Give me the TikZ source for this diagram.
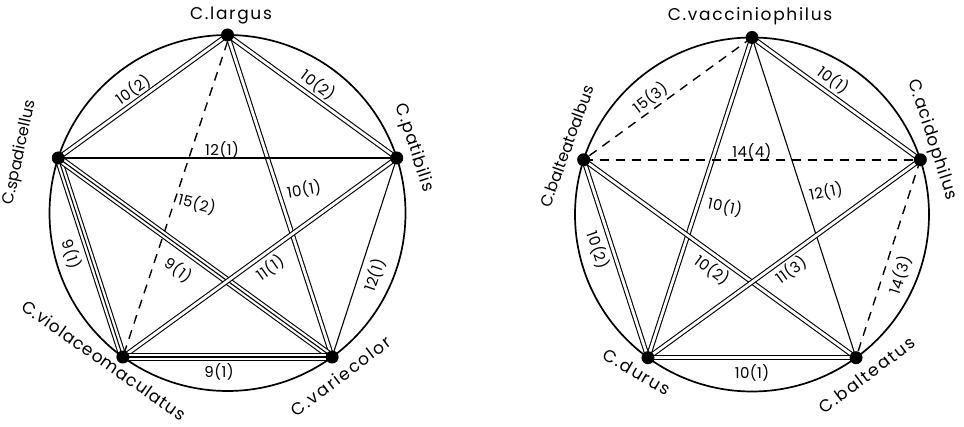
\documentclass[tikz,border=0pt]{standalone}
\usepackage{fontspec}
\setmainfont{Poppins}
\newfontfamily\nmfont[LetterSpace=10]{Poppins}
\newfontfamily\nmmid[LetterSpace=5]{Poppins}
\newfontfamily\nmflat{Poppins}
\newfontfamily\lbfont[LetterSpace=3]{Poppins}
\pgfdeclarelayer{bg}
\pgfsetlayers{bg,main}
\tikzset{
 dot/.style={circle, fill=black, inner sep=0pt, minimum size=13pt},
 nm/.style={font=\nmfont\fontsize{17}{20}\selectfont, inner sep=0pt},
 nmm/.style={font=\nmmid\fontsize{17}{20}\selectfont, inner sep=0pt},
 nmf/.style={font=\nmflat\fontsize{16}{19}\selectfont, inner sep=0pt},
 lb/.style={font=\lbfont\fontsize{15}{18}\selectfont, inner sep=0pt},
 ring/.style={line width=1.7pt},
 sgl/.style={line width=1.1pt},
 dbl/.style={double, line width=1.1pt, double distance=2.8pt},
 trp/.style={line width=1.1pt, preaction={draw, black, line width=7.8pt}, preaction={draw, white, line width=5.6pt}},
 dsh/.style={line width=1.4pt, dash pattern=on 9pt off 7pt},
}
\begin{document}
\begin{tikzpicture}[x=1pt,y=1pt]
\useasboundingbox (0,0) rectangle (964,-427);
% left
\coordinate (LC) at (227.5,-213);
\draw[ring] (LC) circle (178);
\node[dot] (La) at ([shift={(90:178)}]LC) {};
\node[dot] (Lp) at ([shift={(18:178)}]LC) {};
\node[dot] (Lv) at ([shift={(-54:178)}]LC) {};
\node[dot] (Lo) at ([shift={(234:178)}]LC) {};
\node[dot] (Ls) at ([shift={(162:178)}]LC) {};
% right
\coordinate (RC) at (752,-214.5);
\draw[ring] (RC) circle (177);
\node[dot] (Rv) at ([shift={(90:177)}]RC) {};
\node[dot] (Ra) at ([shift={(18:177)}]RC) {};
\node[dot] (Rb) at ([shift={(-54:177)}]RC) {};
\node[dot] (Rd) at ([shift={(234:177)}]RC) {};
\node[dot] (Ro) at ([shift={(162:177)}]RC) {};
\begin{pgfonlayer}{bg}
\draw[dbl] (La.center) -- (Ls.center);
\draw[dbl] (La.center) -- (Lp.center);
\draw[dsh] (La.south) -- (Lo.center);
\draw[dbl] (La.center) -- (Lv.center);
\draw[sgl] (Ls.center) -- (Lp.center);
\draw[trp] (Ls.center) -- (Lo.center);
\draw[trp] (Ls.center) -- (Lv.center);
\draw[dbl] (Lp.center) -- (Lo.center);
\draw[sgl] (Lp.center) -- (Lv.center);
\draw[trp] (Lo.center) -- (Lv.center);
\draw[dsh] (Rv.center) -- (Ro.center);
\draw[dbl] (Rv.center) -- (Ra.center);
\draw[dbl] (Rv.center) -- (Rd.center);
\draw[sgl] (Rv.center) -- (Rb.center);
\draw[dsh] (Ro.center) -- (Ra.center);
\draw[dbl] (Ro.center) -- (Rd.center);
\draw[dbl] (Ro.center) -- (Rb.center);
\draw[dbl] (Ra.center) -- (Rd.center);
\draw[dsh] (Ra.center) -- (Rb.center);
\draw[dbl] (Rd.center) -- (Rb.center);
\end{pgfonlayer}
% node names
\node[nm] (nLa) at (231,-16) {C.largus};
\node[nmf, rotate=78] (nLs) at (20,-153) {C.spadicellus};
\node[nmm, rotate=-72] (nLp) at (414,-148) {C.patibilis};
\node[nmm, rotate=-35] (nLo) at (104,-360) {C.violaceomaculatus};
\node[nm, rotate=37] (nLv) at (341,-376) {C.variecolor};
\node[nm] (nRv) at (750,-16) {C.vacciniophilus};
\node[nmf, rotate=70] (nRo) at (567,-146) {C.balteatoalbus};
\node[nmm, rotate=-72] (nRa) at (932,-140) {C.acidophilus};
\node[nm, rotate=-30] (nRd) at (637,-372) {C.durus};
\node[nm, rotate=37] (nRb) at (867,-375) {C.balteatus};
% edge labels left
\node[lb, rotate=35.6] (l1) at (133,-90) {10(2)};
\node[lb, rotate=-37] (l2) at (318,-85) {10(2)};
\node[lb] (l3) at (222,-150) {12(1)};
\node[lb, rotate=-15] (l4) at (197,-204) {15(2)};
\node[lb, rotate=10] (l5) at (304,-190) {10(1)};
\node[lb, rotate=-72] (l6) at (71,-254) {9(1)};
\node[lb, rotate=-36] (l7) at (178,-270) {9(1)};
\node[lb, rotate=35] (l8) at (270,-268) {11(1)};
\node[lb, rotate=71] (l9) at (375,-275) {12(1)};
\node[lb] (l10) at (219,-372) {9(1)};
% edge labels right
\node[lb, rotate=37] (r1) at (650,-98) {15(3)};
\node[lb, rotate=-37] (r2) at (833,-80) {10(1)};
\node[lb] (r3) at (752,-152) {14(4)};
\node[lb, rotate=12] (r4) at (826,-192) {12(1)};
\node[lb, rotate=-12] (r5) at (725,-207) {10(1)};
\node[lb, rotate=-71] (r6) at (598,-250) {10(2)};
\node[lb, rotate=-36] (r7) at (712,-270) {10(2)};
\node[lb, rotate=36] (r8) at (791,-270) {11(3)};
\node[lb, rotate=72] (r9) at (900,-275) {14(3)};
\node[lb] (r10) at (752,-373) {10(1)};
\end{tikzpicture}
\end{document}
